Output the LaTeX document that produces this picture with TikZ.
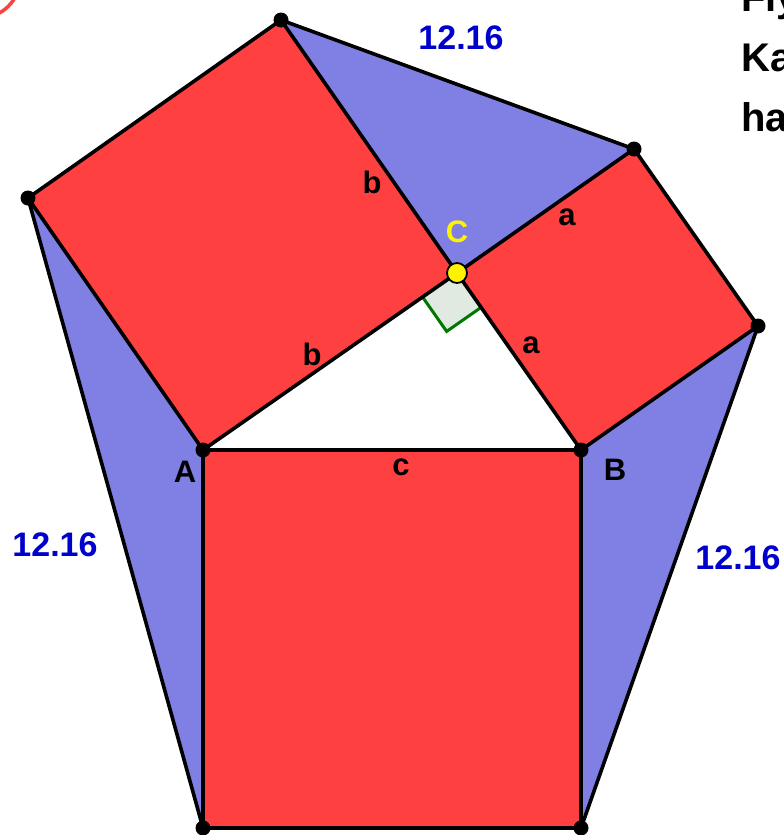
\documentclass[tikz,border=0pt]{standalone}
\usepackage{fontspec}
\setmainfont{Liberation Sans}
\usetikzlibrary{calc}
\definecolor{sqred}{RGB}{255,64,64}
\definecolor{trblue}{RGB}{128,128,228}
\definecolor{lblblue}{RGB}{0,0,204}
\definecolor{rafill}{RGB}{224,234,224}
\definecolor{ragreen}{RGB}{0,120,0}
\begin{document}
\begin{tikzpicture}[x=1pt,y=-1pt,
  edge/.style={line width=3.6pt,line join=round},
  vdot/.style={circle,fill=black,inner sep=0pt,minimum size=15pt},
  lbl/.style={font=\fontsize{31}{36}\selectfont\bfseries,text=black,inner sep=0pt},
  num/.style={font=\fontsize{34}{38}\selectfont\bfseries,text=lblblue,inner sep=0pt},
  hdr/.style={font=\fontsize{40}{46}\selectfont\bfseries,anchor=base west,inner sep=0pt}]
\useasboundingbox (0,0) rectangle (784,835);
\begin{scope}
\clip (0,0) rectangle (784,835);
% points
\coordinate (A) at (203,450);
\coordinate (B) at (581,450);
\coordinate (C) at (457,273);
\coordinate (P1) at (281,20);
\coordinate (P2) at (28,198);
\coordinate (Q1) at (634,149);
\coordinate (Q2) at (758,326);
\coordinate (R1) at (203,828);
\coordinate (R2) at (581,828);
% red arc top-left
\draw[sqred,line width=3.5pt] (-20,-22) circle (40);
% fills
\fill[trblue] (P1) -- (C) -- (Q1) -- cycle;
\fill[trblue] (P2) -- (A) -- (R1) -- cycle;
\fill[trblue] (Q2) -- (B) -- (R2) -- cycle;
\fill[sqred] (A) -- (C) -- (P1) -- (P2) -- cycle;
\fill[sqred] (C) -- (B) -- (Q2) -- (Q1) -- cycle;
\fill[sqred] (A) -- (B) -- (R2) -- (R1) -- cycle;
% right angle marker
\coordinate (RA1) at ($(C)!42pt!(A)$);
\coordinate (RA2) at ($(C)!42pt!(B)$);
\coordinate (RA3) at ($(RA1)+(RA2)-(C)$);
\fill[rafill] (C) -- (RA1) -- (RA3) -- (RA2) -- cycle;
\draw[ragreen,line width=3pt,line join=miter] (RA1) -- (RA3) -- (RA2);
% edges
\draw[edge] (A) -- (C) -- (P1) -- (P2) -- cycle;
\draw[edge] (C) -- (B) -- (Q2) -- (Q1) -- cycle;
\draw[edge] (A) -- (B) -- (R2) -- (R1) -- cycle;
\draw[edge] (P1) -- (Q1);
\draw[edge] (P2) -- (R1);
\draw[edge] (Q2) -- (R2);
% vertex dots
\foreach \p in {A,B,P1,P2,Q1,Q2,R1,R2} \node[vdot] (d\p) at (\p) {};
\node[circle,fill=yellow,draw=black,line width=1.8pt,inner sep=0pt,minimum size=20pt] (dC) at (C) {};
% labels
\node[lbl] (lA) at (185,472) {A};
\node[lbl] (lB) at (615,470) {B};
\node[lbl,text=yellow] (lC) at (457,232) {C};
\node[lbl] (lc) at (401,467) {c};
\node[lbl] (lb1) at (372,182) {b};
\node[lbl] (lb2) at (312,354) {b};
\node[lbl] (la1) at (567,217) {a};
\node[lbl] (la2) at (531,345) {a};
\node[num] (n1) at (461,38) {12.16};
\node[num] (n2) at (55,545) {12.16};
\node[num] (n3) at (738,558) {12.16};
% header text (cut off at the right edge, as in the reference)
\node[hdr] (h1) at (741,11) {Fly};
\node[hdr] (h2) at (741,71) {Ka};
\node[hdr] (h3) at (741,131) {ha};
\end{scope}
\end{tikzpicture}
\end{document}
